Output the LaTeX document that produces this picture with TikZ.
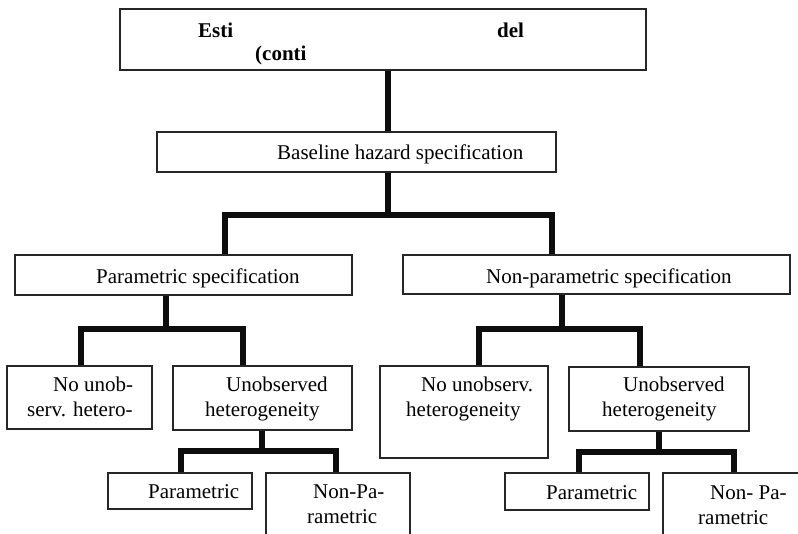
\documentclass[tikz,border=0pt]{standalone}
\usepackage{fontspec}
\setmainfont{Liberation Serif}
\usepackage{tikz}

\begin{document}
\begin{tikzpicture}[x=1pt,y=-1pt]
            \tikzset{box/.style = {shape=rectangle, draw=black!85, line width=1.1pt, inner sep=0pt}}
            \tikzset{txt/.style = {anchor=base west, inner sep=0pt, font=\fontsize{21}{26}\selectfont}}
            \tikzset{bar/.style = {draw=black!95, line width=5.5pt}}
            \useasboundingbox (0,0) rectangle (798,534);
            \clip (0,0) rectangle (798,534);
            % boxes
            \node[box, minimum width=526pt, minimum height=61pt] (top) at (383,39.5) {};
            \node[box, minimum width=399pt, minimum height=40pt] (base) at (356.5,152) {};
            \node[box, minimum width=337pt, minimum height=40pt] (pspec) at (183.5,275) {};
            \node[box, minimum width=387pt, minimum height=39pt] (npspec) at (596.5,274.5) {};
            \node[box, minimum width=145pt, minimum height=63pt] (pnone) at (79.5,397.5) {};
            \node[box, minimum width=179pt, minimum height=64pt] (punob) at (262.5,398) {};
            \node[box, minimum width=144pt, minimum height=36pt] (ppar) at (180,491) {};
            \node[box, minimum width=144pt, minimum height=127pt] (pnon) at (338,536.5) {};
            \node[box, minimum width=168pt, minimum height=92pt] (nnone) at (464,412) {};
            \node[box, minimum width=180pt, minimum height=64pt] (nunob) at (659,399) {};
            \node[box, minimum width=144pt, minimum height=37pt] (npar) at (577,491.5) {};
            \node[box, minimum width=237pt, minimum height=127pt] (nnon) at (781.5,536.5) {};
            % labels
            \node[txt, font=\fontsize{21}{26}\selectfont\bfseries] (top-a) at (198,38) {Esti};
            \node[txt, font=\fontsize{21}{26}\selectfont\bfseries] (top-b) at (497,38) {del};
            \node[txt, font=\fontsize{21}{26}\selectfont\bfseries] (top-c) at (255,61) {(conti};
            \node[txt] (base-t) at (277,160) {Baseline hazard specification};
            \node[txt] (pspec-t) at (96,284) {Parametric specification};
            \node[txt] (npspec-t) at (486,284) {Non-parametric specification};
            \node[txt] (pnone-a) at (53,392) {No unob-};
            \node[txt] (pnone-b) at (27,417) {serv. hetero-};
            \node[txt] (punob-a) at (226,392) {Unobserved};
            \node[txt] (punob-b) at (205,417) {heterogeneity};
            \node[txt] (ppar-t) at (148,498) {Parametric};
            \node[txt] (pnon-a) at (313,498) {Non-Pa-};
            \node[txt] (pnon-b) at (307,523) {rametric};
            \node[txt] (nnone-a) at (421,392) {No unobserv.};
            \node[txt] (nnone-b) at (406,417) {heterogeneity};
            \node[txt] (nunob-a) at (623,392) {Unobserved};
            \node[txt] (nunob-b) at (602,417) {heterogeneity};
            \node[txt] (npar-t) at (546,499) {Parametric};
            \node[txt] (nnon-a) at (710,499) {Non- Pa-};
            \node[txt] (nnon-b) at (698,524) {rametric};
            % junctions
            \coordinate (j1) at (388,215);
            \coordinate (l1) at (225,215);
            \coordinate (r1) at (552,215);
            \coordinate (j2) at (166,329);
            \coordinate (l2) at (81,329);
            \coordinate (r2) at (243,329);
            \coordinate (j3) at (562,329);
            \coordinate (l3) at (479,329);
            \coordinate (r3) at (640,329);
            \coordinate (j4) at (262,451);
            \coordinate (l4) at (181,451);
            \coordinate (r4) at (336,451);
            \coordinate (j5) at (659,452);
            \coordinate (l5) at (579,452);
            \coordinate (r5) at (734,452);
            % connectors
            \draw[bar] (top.south -| j1) -- (base.north -| j1);
            \draw[bar] (base.south -| j1) -- (j1);
            \draw[bar] (pspec.north -| l1) -- (l1) -- (r1) -- (npspec.north -| r1);
            \draw[bar] (pspec.south -| j2) -- (j2);
            \draw[bar] (pnone.north -| l2) -- (l2) -- (r2) -- (punob.north -| r2);
            \draw[bar] (npspec.south -| j3) -- (j3);
            \draw[bar] (nnone.north -| l3) -- (l3) -- (r3) -- (nunob.north -| r3);
            \draw[bar] (punob.south -| j4) -- (j4);
            \draw[bar] (ppar.north -| l4) -- (l4) -- (r4) -- (pnon.north -| r4);
            \draw[bar] (nunob.south -| j5) -- (j5);
            \draw[bar] (npar.north -| l5) -- (l5) -- (r5) -- (nnon.north -| r5);
        \end{tikzpicture}
\end{document}
